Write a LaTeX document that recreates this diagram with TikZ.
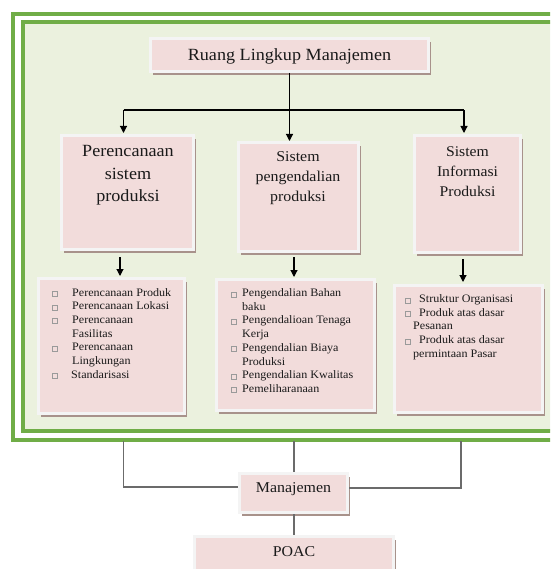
\documentclass[tikz,border=0pt]{standalone}
\usepackage{fontspec}
\setmainfont{Liberation Serif}[FakeStretch=1.06]
\usetikzlibrary{arrows.meta,shadows}
\definecolor{greenc}{HTML}{70AD47}
\definecolor{lgreen}{HTML}{EBF1DE}
\definecolor{pinkc}{HTML}{F2DCDB}
\definecolor{borderc}{HTML}{F4F4F4}
\definecolor{shadowc}{HTML}{A8928B}
\definecolor{connc}{HTML}{6B6B6B}
\definecolor{bxc}{HTML}{9A9A9A}
\definecolor{txtc}{HTML}{1A1A1A}
\newcommand\bx{{\fboxsep=0pt\fboxrule=0.5pt\color{bxc}\fbox{\rule{4.5pt}{0pt}\rule{0pt}{4.5pt}}}}
\newcommand\itm[3]{\par\noindent\hangindent=#2\hangafter=1\makebox[#1][l]{\bx}#3}
\tikzset{
  pbox/.style={draw=borderc, line width=3pt, fill=pinkc, inner sep=0pt, text=txtc,
    drop shadow={shadow xshift=2.5pt, shadow yshift=-3.5pt, fill=shadowc, opacity=1}},
  ttext/.style={inner sep=0pt, text=txtc, anchor=base},
  lst/.style={inner sep=0pt, text=txtc, anchor=base west},
  arr/.style={line width=1.1pt, -{Triangle[width=7pt,length=7pt]}},
  conn/.style={line width=1.5pt, draw=connc},
  gframe/.style={line width=4pt, draw=greenc}
}
\begin{document}
\begin{tikzpicture}[x=1pt, y=-1pt]
\useasboundingbox (0,0) rectangle (550,569);
\clip (0,0) rectangle (550,569);
\fill[white] (0,0) rectangle (550,569);
% frame
\draw[gframe, fill=white] (13.3,14) rectangle (620,439.5);
\draw[gframe, fill=lgreen] (23,22.5) rectangle (610,430.5);

% title
\node[pbox, minimum width=278pt, minimum height=33pt, font=\fontsize{17.1}{20}\selectfont,
  text height=12pt, text depth=0.6pt] (title) at (289.5,55) {Ruang Lingkup Manajemen};

% level 2 boxes
\node[pbox, minimum width=132pt, minimum height=114pt] (l2a) at (127.5,192.5) {};
\node[pbox, minimum width=120pt, minimum height=109pt] (l2b) at (298.5,197) {};
\node[pbox, minimum width=106pt, minimum height=117pt] (l2c) at (467.5,194) {};
\node[ttext] (t2a) at (128,157) {\parbox[t]{130pt}{\centering\fontsize{17.1}{22.3}\selectfont Perencanaan\\sistem\\produksi}};
\node[ttext] (t2b) at (298,161.5) {\parbox[t]{120pt}{\centering\fontsize{15}{20}\selectfont Sistem\\pengendalian\\produksi}};
\node[ttext] (t2c) at (467.5,156.5) {\parbox[t]{105pt}{\centering\fontsize{14.8}{19.8}\selectfont Sistem\\Informasi\\Produksi}};

% level 3 boxes
\node[pbox, minimum width=146pt, minimum height=135pt] (l3a) at (111.5,346) {};
\node[pbox, minimum width=158pt, minimum height=131pt] (l3b) at (295.5,345) {};
\node[pbox, minimum width=148pt, minimum height=127pt] (l3c) at (468.5,349) {};
\node[lst] (t3a) at (52,296) {\parbox[t]{150pt}{\fontsize{11.4}{13.7}\selectfont
  \itm{20pt}{20pt}{Perencanaan Produk}
  \itm{20pt}{20pt}{Perencanaan Lokasi}
  \itm{20pt}{20pt}{Perencanaan\\Fasilitas}
  \itm{20pt}{20pt}{Perencanaan\\Lingkungan}
  \itm{19pt}{19pt}{Standarisasi}}};
\node[lst] (t3b) at (231,296.5) {\parbox[t]{160pt}{\fontsize{11.4}{13.7}\selectfont
  \itm{11pt}{11pt}{Pengendalian Bahan\\baku}
  \itm{11pt}{11pt}{Pengendalioan Tenaga\\Kerja}
  \itm{11pt}{11pt}{Pengendalian Biaya\\Produksi}
  \itm{11pt}{11pt}{Pengendalian Kwalitas}
  \itm{11pt}{11pt}{Pemeliharanaan}}};
\node[lst] (t3c) at (405,302.5) {\parbox[t]{150pt}{\fontsize{11.4}{13.7}\selectfont
  \itm{14pt}{8pt}{Struktur Organisasi}
  \itm{14pt}{8pt}{Produk atas dasar\\Pesanan}
  \itm{14pt}{8pt}{Produk atas dasar\\permintaan Pasar}}};

% bottom boxes
\node[pbox, minimum width=108pt, minimum height=39pt, font=\fontsize{15}{18}\selectfont,
  text height=5pt, text depth=7pt] (man) at (293.5,493) {Manajemen};
\node[pbox, anchor=north, minimum width=199pt, font=\fontsize{15}{18}\selectfont,
  text height=10pt, text depth=40pt, inner ysep=10pt] (poac) at (294,535) {POAC};

% top arrows
\coordinate (hl) at (123.5,110);
\coordinate (hr) at (464,110);
\draw[line width=1.1pt] (hl) -- (hr);
\draw[arr] (title.south) -- (title.south |- l2b.north);
\draw[arr] (hl) -- ([yshift=1pt]hl |- l2a.north);
\draw[arr] (hr) -- ([yshift=1pt]hr |- l2c.north);

% level2 -> level3 arrows
\draw[arr] ([xshift=-7.5pt,yshift=-6pt]l2a.south) -- ([xshift=-7.5pt,yshift=1pt]l2a.south |- l3a.north);
\draw[arr] ([xshift=-4.5pt,yshift=-4pt]l2b.south) -- ([xshift=-4.5pt,yshift=1pt]l2b.south |- l3b.north);
\draw[arr] ([xshift=-4.5pt,yshift=-5pt]l2c.south) -- ([xshift=-4.5pt,yshift=2pt]l2c.south |- l3c.north);

% lower connectors
\coordinate (fl) at (123.5,441);
\coordinate (fm) at (294,441);
\coordinate (fr) at (461,441);
\draw[conn] (fl) |- ([yshift=6pt]man.west);
\draw[conn] (fm) -- (fm |- man.north);
\draw[conn] (fr) |- ([yshift=5pt]man.east);
\draw[conn] (man.south -| fm) -- (poac.north -| fm);
\end{tikzpicture}
\end{document}
